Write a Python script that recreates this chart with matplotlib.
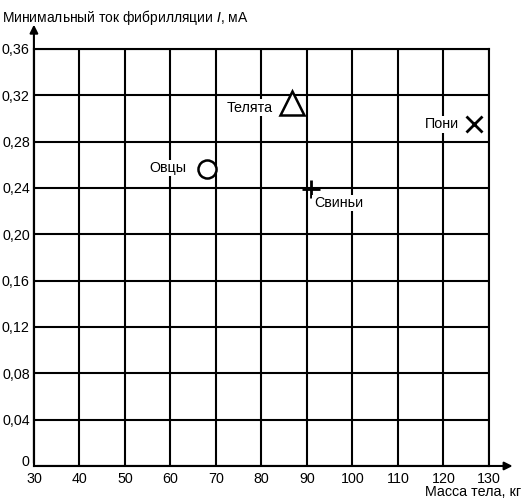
import matplotlib
matplotlib.use('Agg')
import matplotlib.pyplot as plt
import matplotlib.transforms as mtransforms
from matplotlib.ticker import FuncFormatter

plt.rcParams['font.family'] = ['Liberation Sans', 'DejaVu Sans']

# данные
animals = ['Овцы', 'Телята', 'Свиньи', 'Пони']
mass = [68, 86.7, 90.9, 126.7]
current = [0.256, 0.313, 0.239, 0.295]
markers = ['o', '^', '+', 'x']
x_ticks = [30, 40, 50, 60, 70, 80, 90, 100, 110, 120, 130]
y_ticks = [0.04, 0.08, 0.12, 0.16, 0.20, 0.24, 0.28, 0.32, 0.36]

fs = 10.3

fig = plt.figure(figsize=(5.3, 5.03), dpi=100)
ax = fig.add_axes([0.064, 0.0736, 0.8586, 0.829])

ax.set_xlim(30, 130)
ax.set_ylim(0, 0.36)
ax.set_xticks(x_ticks)
ax.set_yticks(y_ticks)
ax.grid(True, color='black', linewidth=1.5)
ax.set_axisbelow(True)
ax.tick_params(length=0, labelsize=fs)
ax.tick_params(axis='x', pad=4.5)
ax.tick_params(axis='y', pad=3)
ax.yaxis.set_major_formatter(FuncFormatter(lambda v, p: ('%.2f' % v).replace('.', ',')))
for s in ax.spines.values():
    s.set_linewidth(1.5)
    s.set_color('black')

# ноль в углу, чуть выше подписи 30
off = mtransforms.offset_copy(ax.transData, fig=fig, x=-3, y=3, units='points')
ax.text(30, 0, '0', transform=off, ha='right', va='center', fontsize=fs)

# стрелки осей
ax.annotate('', xy=(1.058, 0), xytext=(0, 0), xycoords='axes fraction',
            arrowprops=dict(arrowstyle='-|>', color='black', lw=1.5, mutation_scale=12))
ax.annotate('', xy=(0, 1.065), xytext=(0, 0), xycoords='axes fraction',
            arrowprops=dict(arrowstyle='-|>', color='black', lw=1.5, mutation_scale=12))

for name, m, c, mk in zip(animals, mass, current, markers):
    if mk in ('+', 'x'):
        ax.plot(m, c, marker=mk, color='black', markersize=13 if mk == '+' else 11,
                markeredgewidth=2, linestyle='none', clip_on=False, zorder=3)
    else:
        ax.plot(m, c, marker=mk, markerfacecolor='white', markeredgecolor='black',
                markersize=13 if mk == 'o' else 17, markeredgewidth=1.8,
                linestyle='none', clip_on=False, zorder=3)

ax.annotate('Овцы', (mass[0], current[0]), xytext=(-15, 1), textcoords='offset points',
            ha='right', va='center', fontsize=fs,
            bbox=dict(facecolor='white', edgecolor='none', pad=1))
ax.annotate('Телята', (mass[1], current[1]), xytext=(-14, -3), textcoords='offset points',
            ha='right', va='center', fontsize=fs,
            bbox=dict(facecolor='white', edgecolor='none', pad=1))
ax.annotate('Свиньи', (mass[2], current[2]), xytext=(2, -10), textcoords='offset points',
            ha='left', va='center', fontsize=fs,
            bbox=dict(facecolor='white', edgecolor='none', pad=1))
ax.annotate('Пони', (mass[3], current[3]), xytext=(-11, 0), textcoords='offset points',
            ha='right', va='center', fontsize=fs,
            bbox=dict(facecolor='white', edgecolor='none', pad=1))

fig.text(0.003, 0.985, 'Минимальный ток фибрилляции $\\it{I}$, мА', ha='left', va='top', fontsize=10)
fig.text(0.984, 0.008, 'Масса тела, кг', ha='right', va='bottom', fontsize=fs)

fig.savefig('out.png', dpi=100)
